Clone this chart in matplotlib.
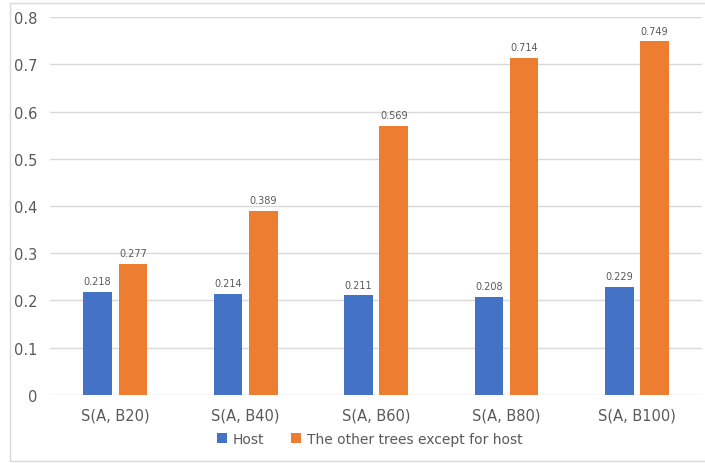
import numpy as np
import matplotlib.pyplot as plt
from matplotlib.patches import Rectangle

categories = ['S(A, B20)', 'S(A, B40)', 'S(A, B60)', 'S(A, B80)', 'S(A, B100)']
host = [0.218, 0.214, 0.211, 0.208, 0.229]
others = [0.277, 0.389, 0.569, 0.714, 0.749]

blue = '#4472C4'
orange = '#ED7D31'
grey = '#595959'

fig = plt.figure(figsize=(7.05, 4.64), dpi=100)
ax = fig.add_axes([0.071, 0.147, 0.925, 0.814])

# light frame around the chart area
fig.patches.append(Rectangle((0.014, 0.004), 0.99, 0.988, transform=fig.transFigure,
                             fill=False, edgecolor='#D9D9D9', linewidth=1))

x = np.arange(len(categories))
w = 0.22
b1 = ax.bar(x - 0.135, host, w, color=blue, label='Host', zorder=3)
b2 = ax.bar(x + 0.135, others, w, color=orange, label='The other trees except for host', zorder=3)

for bars in (b1, b2):
    for rect in bars:
        h = rect.get_height()
        ax.text(rect.get_x() + rect.get_width() / 2, h + 0.012, f'{h:.3f}',
                ha='center', va='bottom', fontsize=7, color=grey)

ax.set_xlim(-0.5, len(categories) - 0.5)
ax.set_ylim(0, 0.8)
ax.set_yticks(np.arange(0, 0.81, 0.1))
ax.set_yticklabels(['0'] + [f'{v:.1f}' for v in np.arange(0.1, 0.81, 0.1)])
ax.set_xticks(x)
ax.set_xticklabels(categories)
ax.tick_params(axis='both', length=0, labelsize=10.5, colors=grey)
ax.tick_params(axis='x', pad=9)
ax.tick_params(axis='y', pad=9)
ax.grid(axis='y', color='#D9D9D9', linewidth=1, zorder=0)
for s in ax.spines.values():
    s.set_visible(False)

ax.legend(loc='upper center', bbox_to_anchor=(0.49, -0.065), ncol=2, frameon=False,
          fontsize=10, labelcolor=grey, handlelength=0.7, handleheight=0.7,
          handletextpad=0.4, columnspacing=2.0)

fig.savefig('out.png', dpi=100)
